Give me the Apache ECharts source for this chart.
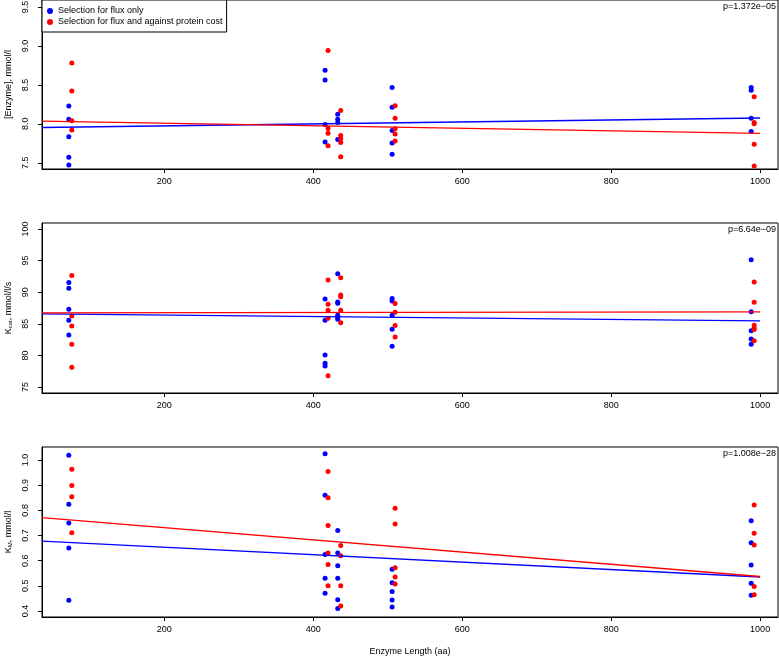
<!DOCTYPE html>
<html>
<head>
<meta charset="utf-8">
<script src="https://cdn.jsdelivr.net/npm/echarts@6/dist/echarts.min.js"></script>
<style>html,body{margin:0;padding:0;background:#fff}#c{width:779px;height:659px}</style>
</head>
<body>
<div id="c"></div>
<script>
// ---- data ----
const seriesNames = ['Selection for flux only', 'Selection for flux and against protein cost'];
const lengthsBlue = [72, 416, 433, 506, 988];
const lengthsRed = [76, 420, 437, 510, 992];
const xTicks = [200, 400, 600, 800, 1000];

const enzymeBlue = [[8.23, 8.06, 7.835, 7.57, 7.47], [8.687, 8.564, 7.99, 7.767], [8.123, 8.06, 8.017, 7.80], [8.467, 8.212, 7.915, 7.754, 7.61], [8.467, 8.43, 8.072, 7.90]];
const enzymeRed = [[8.78, 8.42, 8.04, 7.92], [8.94, 7.94, 7.88, 7.72], [8.17, 7.85, 7.81, 7.76, 7.576], [8.233, 8.072, 7.936, 7.87, 7.78], [8.347, 8.017, 8.0, 7.737, 7.457]];
const kcatBlue = [[91.53, 90.63, 87.3, 85.57, 83.24], [88.92, 85.55, 80.06, 78.75, 78.32], [92.93, 88.45, 88.24, 86.34, 86.03, 85.71], [89.0, 88.6, 86.36, 84.15, 81.46], [95.12, 86.9, 83.9, 82.6, 81.77]];
const kcatRed = [[92.64, 86.25, 84.67, 81.77, 78.13], [91.93, 88.09, 87.14, 85.87, 76.76], [92.3, 89.56, 89.29, 87.14, 85.17], [88.2, 86.83, 84.73, 82.93], [91.63, 88.42, 84.78, 84.35, 84.1, 82.3]];
const kmBlue = [[1.019, 0.824, 0.75, 0.65, 0.443], [1.025, 0.86, 0.625, 0.53, 0.47], [0.72, 0.63, 0.58, 0.53, 0.445, 0.41], [0.566, 0.512, 0.477, 0.444, 0.416], [0.759, 0.671, 0.583, 0.51, 0.462]];
const kmRed = [[0.964, 0.899, 0.854, 0.711], [0.955, 0.85, 0.74, 0.63, 0.585, 0.5], [0.66, 0.62, 0.5, 0.42], [0.808, 0.746, 0.572, 0.535, 0.507], [0.821, 0.709, 0.662, 0.497, 0.464]];

const fitX = [36, 1000];
const enzymeFitBlue = [7.953, 8.075];
const enzymeFitRed = [8.035, 7.877];
const kcatFitBlue = [86.57, 85.46];
const kcatFitRed = [86.72, 86.88];
const kmFitBlue = [0.678, 0.535];
const kmFitRed = [0.771, 0.537];

const enzymeTicks = [7.5, 8.0, 8.5, 9.0, 9.5];
const kcatTicks = [75, 80, 85, 90, 95, 100];
const kmTicks = [0.4, 0.5, 0.6, 0.7, 0.8, 0.9, 1.0];
const pValues = ['p=1.372e\u221205', 'p=6.64e\u221209', 'p=1.008e\u221228'];
const yNames = ['[Enzyme], mmol/l', 'K{sub|cat}, mmol/l/s', 'K{sub|M}, mmol/l'];
const xName = 'Enzyme Length (aa)';

// ---- build ----
const FONT = 'Liberation Sans, Arial, Helvetica, sans-serif';
const BLUE = '#0000FF', RED = '#FF0000';
const grids = [
  {left: 42, top: 0, width: 736, height: 169},
  {left: 42, top: 223, width: 736, height: 170},
  {left: 42, top: 447, width: 736, height: 170}
];
const yRanges = [[7.42, 9.59], [74.05, 100.95], [0.376, 1.052]];
const yTicksAll = [enzymeTicks, kcatTicks, kmTicks];
const yDec = [1, 0, 1];

function pts(xs, groups) {
  const out = [];
  groups.forEach((g, i) => g.forEach(v => out.push([xs[i], v])));
  return out;
}

const panels = [
  [enzymeBlue, enzymeRed, enzymeFitBlue, enzymeFitRed],
  [kcatBlue, kcatRed, kcatFitBlue, kcatFitRed],
  [kmBlue, kmRed, kmFitBlue, kmFitRed]
];

const xAxis = [], yAxis = [], series = [], title = [];
grids.forEach((g, i) => {
  g.show = true; g.borderColor = '#000'; g.borderWidth = 1; g.containLabel = false;
  g.outerBoundsMode = 'none';
  xAxis.push({
    type: 'value', gridIndex: i, min: 36, max: 1024,
    axisLine: {show: true, lineStyle: {color: '#000', width: 1}},
    axisTick: {show: true, inside: false, length: 4, lineStyle: {color: '#000'}, customValues: xTicks},
    axisLabel: {color: '#000', fontSize: 9, fontFamily: FONT, margin: 8, customValues: xTicks,
      formatter: v => String(v)},
    splitLine: {show: false},
    name: i === 2 ? xName : '', nameLocation: 'middle', nameGap: 30,
    nameTextStyle: {color: '#000', fontSize: 9, fontFamily: FONT}
  });
  yAxis.push({
    type: 'value', gridIndex: i, min: yRanges[i][0], max: yRanges[i][1],
    axisLine: {show: true, lineStyle: {color: '#000', width: 1}},
    axisTick: {show: true, inside: false, length: 4, lineStyle: {color: '#000'}, customValues: yTicksAll[i]},
    axisLabel: {color: '#000', fontSize: 9, fontFamily: FONT, margin: 12, rotate: 90,
      customValues: yTicksAll[i], formatter: v => v.toFixed(yDec[i])},
    splitLine: {show: false},
    name: yNames[i], nameLocation: 'middle', nameGap: 27, nameRotate: 90,
    nameTextStyle: {color: '#000', fontSize: 9, fontFamily: FONT,
      rich: {sub: {fontSize: 6, fontFamily: FONT, color: '#000', verticalAlign: 'bottom', padding: [4, 0, 0, 0]}}}
  });
  const p = panels[i];
  series.push({type: 'scatter', name: seriesNames[0], xAxisIndex: i, yAxisIndex: i, data: pts(lengthsBlue, p[0]),
    symbol: 'circle', symbolSize: 5, itemStyle: {color: BLUE, opacity: 1}, z: 3});
  series.push({type: 'scatter', name: seriesNames[1], xAxisIndex: i, yAxisIndex: i, data: pts(lengthsRed, p[1]),
    symbol: 'circle', symbolSize: 5, itemStyle: {color: RED, opacity: 1}, z: 3});
  series.push({type: 'line', name: 'fitB' + i, xAxisIndex: i, yAxisIndex: i, data: fitX.map((x, k) => [x, p[2][k]]),
    showSymbol: false, lineStyle: {color: BLUE, width: 1.3}, z: 4, silent: true});
  series.push({type: 'line', name: 'fitR' + i, xAxisIndex: i, yAxisIndex: i, data: fitX.map((x, k) => [x, p[3][k]]),
    showSymbol: false, lineStyle: {color: RED, width: 1.3}, z: 4, silent: true});
  title.push({text: pValues[i], right: 3, top: g.top + 2,
    textStyle: {color: '#000', fontSize: 9, fontWeight: 'normal', fontFamily: FONT}, padding: 0});
});

const chart = echarts.init(document.getElementById('c'), null, {renderer: 'canvas'});
chart.setOption({
  backgroundColor: '#fff',
  animation: false,
  title: title,
  grid: grids,
  xAxis: xAxis,
  yAxis: yAxis,
  series: series,
  legend: {
    data: seriesNames.map(n => ({name: n, icon: 'circle'})),
    orient: 'vertical', left: 42, top: 0, itemWidth: 6, itemHeight: 6, itemGap: 1,
    padding: [6, 4, 5, 5], borderColor: '#000', borderWidth: 1, backgroundColor: '#fff',
    selectedMode: false,
    textStyle: {color: '#000', fontSize: 9, fontFamily: FONT, lineHeight: 10}
  }
});
</script>
</body>
</html>
